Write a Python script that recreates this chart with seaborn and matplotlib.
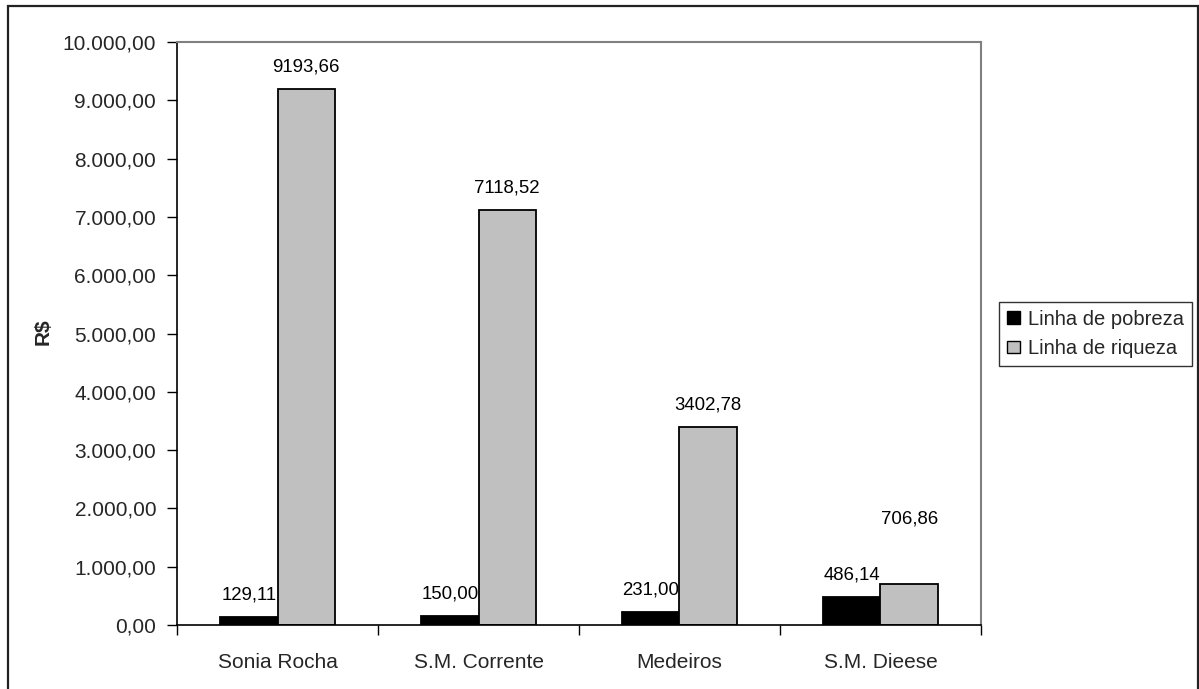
import matplotlib
matplotlib.use("Agg")
import matplotlib.pyplot as plt
from matplotlib.patches import Rectangle
from matplotlib.ticker import FuncFormatter, FixedLocator
import seaborn as sns
import pandas as pd

# Values in R$
categories = ["Sonia Rocha", "S.M. Corrente", "Medeiros", "S.M. Dieese"]
linha_pobreza = [129.11, 150.00, 231.00, 486.14]
linha_riqueza = [9193.66, 7118.52, 3402.78, 706.86]
series_names = ["Linha de pobreza", "Linha de riqueza"]
y_ticks = [0, 1000, 2000, 3000, 4000, 5000, 6000, 7000, 8000, 9000, 10000]

df = pd.DataFrame({
    "categoria": categories * 2,
    "serie": [series_names[0]] * len(categories) + [series_names[1]] * len(categories),
    "valor": linha_pobreza + linha_riqueza,
})

sns.set_theme(style="white")
plt.rcParams["font.family"] = ["Liberation Sans", "DejaVu Sans"]

fig = plt.figure(figsize=(11.99, 6.89), dpi=100)
ax = fig.add_axes([177 / 1199, 64 / 689, 804 / 1199, 583 / 689])

sns.barplot(
    data=df, x="categoria", y="valor", hue="serie",
    palette=["#000000", "#C0C0C0"], width=0.572, gap=0,
    edgecolor="black", linewidth=1.3, saturation=1, ax=ax,
    legend=True,
)

ax.set_ylim(0, 10000)
ax.set_xlim(-0.5, len(categories) - 0.5)


def br_format(v, pos=None):
    s = f"{v:,.2f}"
    return s.replace(",", "X").replace(".", ",").replace("X", ".")


ax.yaxis.set_major_locator(FixedLocator(y_ticks))
ax.yaxis.set_major_formatter(FuncFormatter(br_format))
ax.tick_params(axis="y", which="major", direction="out", length=7, width=1,
               color="black", labelsize=15, pad=8, left=True)

# category labels centred, ticks at group boundaries
ax.set_xticks(range(len(categories)))
ax.set_xticklabels(categories)
ax.tick_params(axis="x", which="major", length=0, labelsize=15, pad=20)
ax.set_xticks([i - 0.5 for i in range(len(categories) + 1)], minor=True)
ax.tick_params(axis="x", which="minor", direction="out", length=7, width=1,
               color="black", bottom=True)

ax.set_xlabel("")
ax.set_ylabel("R$", fontsize=15, fontweight="bold")
ax.yaxis.set_label_coords((53 - 177) / 804, 1 - (332 - 42) / 583)

for side in ["left", "bottom"]:
    ax.spines[side].set_color("black")
    ax.spines[side].set_linewidth(1.2)
for side in ["top", "right"]:
    ax.spines[side].set_color("#808080")
    ax.spines[side].set_linewidth(1.5)
ax.spines["left"].set_visible(True)
ax.spines["bottom"].set_visible(True)

# value labels above the bars
label_offsets = {(1, 3): 65}
for si, container in enumerate(ax.containers):
    for ci, bar in enumerate(container):
        h = bar.get_height()
        xc = bar.get_x() + bar.get_width() / 2
        off = label_offsets.get((si, ci), 22)
        ax.annotate(f"{h:.2f}".replace(".", ","), (xc, h),
                    xytext=(0, off), textcoords="offset pixels",
                    ha="center", va="center", fontsize=13.4, color="black")

leg = ax.legend(
    loc="center left", bbox_to_anchor=(999 / 1199, 1 - 334 / 689),
    bbox_transform=fig.transFigure, frameon=True, fancybox=False,
    edgecolor="black", fontsize=14.5, handlelength=0.6, handleheight=0.6,
    handletextpad=0.4, borderpad=0.42, labelspacing=0.5, borderaxespad=0,
    title=None,
)
leg.get_frame().set_linewidth(1.0)
for h in leg.legend_handles:
    h.set_edgecolor("black")
    h.set_linewidth(1.0)

# outer chart frame
fig.patches.append(Rectangle((8 / 1199, -0.02), 1190 / 1199, 1 - 6 / 689 + 0.02,
                             transform=fig.transFigure, fill=False,
                             edgecolor="#222222", linewidth=1.6))

fig.savefig("out.png", dpi=100)
